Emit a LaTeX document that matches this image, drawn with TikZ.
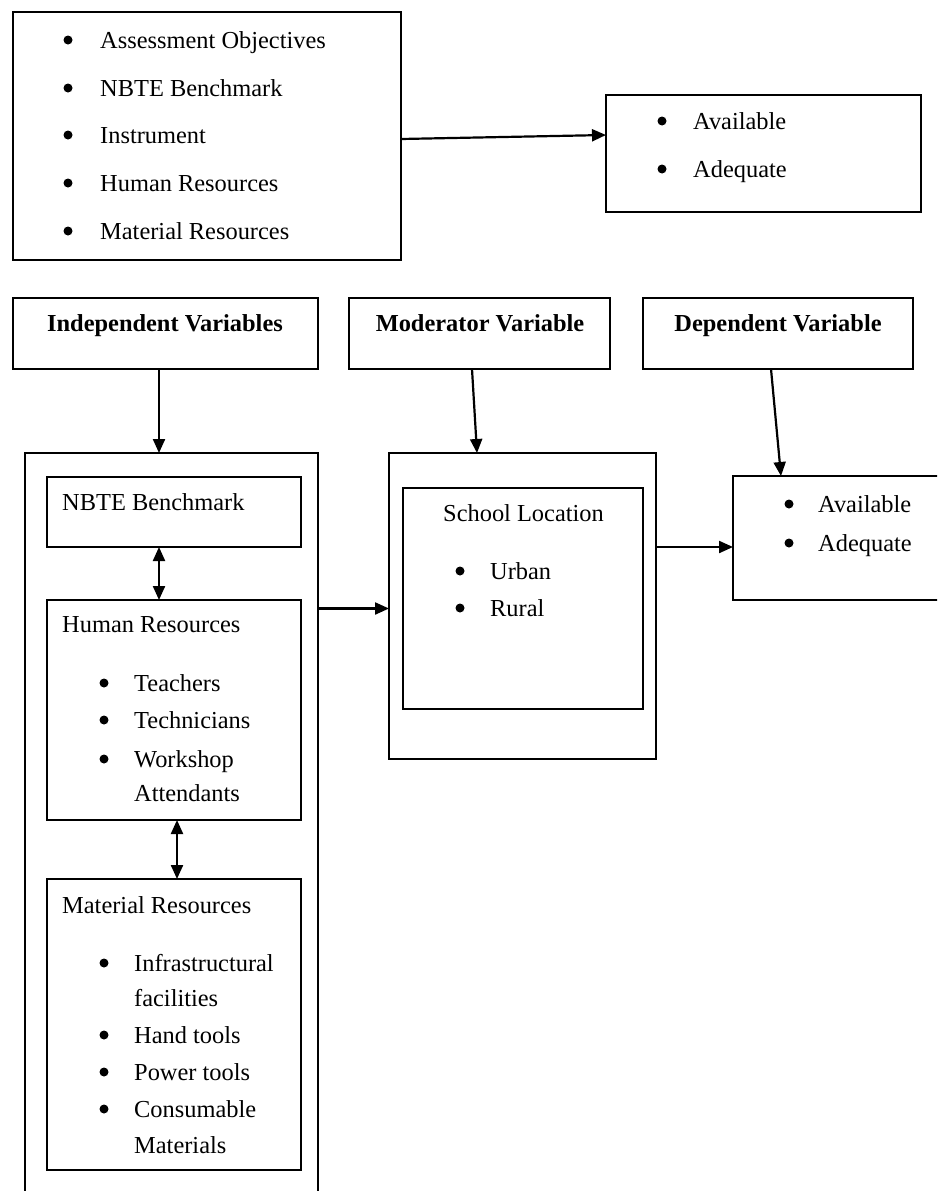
\documentclass[tikz,border=0pt]{standalone}
\usepackage{fontspec}
\setmainfont{Liberation Serif}
\usetikzlibrary{arrows.meta}
\begin{document}
\begin{tikzpicture}[x=1pt,y=-1pt,
  box/.style={draw,line width=2.2pt,inner sep=0pt,outer sep=0pt,anchor=north west},
  txt/.style={inner sep=0pt,anchor=base west,font=\fontsize{24.4}{28}\selectfont},
  hd/.style={inner sep=0pt,anchor=base,font=\fontsize{24.4}{28}\selectfont\bfseries},
  bul/.style={circle,fill,inner sep=0pt,minimum size=9pt,yshift=8pt},
  arr/.style={line width=2.2pt,-{Triangle[length=14pt,width=12pt]}},
  darr/.style={line width=2.2pt,{Triangle[length=14pt,width=12pt]}-{Triangle[length=14pt,width=12pt]}}]
\useasboundingbox (0,0) rectangle (937,1191);
\clip (0,0) rectangle (937,1191);
% top boxes
\node[box,minimum width=388pt,minimum height=248pt] (tl) at (13,12) {};
\node[box,minimum width=315pt,minimum height=117pt] (tr) at (606,95) {};
\node[bul] (tlb1) at (68,48) {};
\node[txt] (tlt1) at (100,48) {Assessment Objectives};
\node[bul] (tlb2) at (68,96) {};
\node[txt] (tlt2) at (100,96) {NBTE Benchmark};
\node[bul] (tlb3) at (68,143) {};
\node[txt] (tlt3) at (100,143) {Instrument};
\node[bul] (tlb4) at (68,191) {};
\node[txt] (tlt4) at (100,191) {Human Resources};
\node[bul] (tlb5) at (68,239) {};
\node[txt] (tlt5) at (100,239) {Material Resources};
\node[bul] (trb1) at (662,129) {};
\node[txt] (trt1) at (693,129) {Available};
\node[bul] (trb2) at (662,177) {};
\node[txt] (trt2) at (693,177) {Adequate};
\draw[arr] ([yshift=-3pt]tl.east) -- ([yshift=18.5pt]tr.west);
% header boxes
\node[box,minimum width=305pt,minimum height=71pt] (iv) at (13,298) {};
\node[box,minimum width=261pt,minimum height=71pt] (mv) at (349,298) {};
\node[box,minimum width=270pt,minimum height=71pt] (dv) at (643,298) {};
\node[hd] (ivt) at (165,331) {Independent Variables};
\node[hd] (mvt) at (480,331) {Moderator Variable};
\node[hd] (dvt) at (778,331) {Dependent Variable};
% lower boxes
\node[box,minimum width=293pt,minimum height=800pt] (ol) at (25,453) {};
\node[box,minimum width=254pt,minimum height=70pt] (nb) at (47,477) {};
\node[box,minimum width=254pt,minimum height=220pt] (hr) at (47,600) {};
\node[box,minimum width=254pt,minimum height=291pt] (mr) at (47,879) {};
\node[box,minimum width=267pt,minimum height=306pt] (mo) at (389,453) {};
\node[box,minimum width=240pt,minimum height=221pt] (sl) at (403,488) {};
\node[box,minimum width=240pt,minimum height=124pt] (rb) at (733,476) {};
% texts lower
\node[txt] (nbt) at (62,510) {NBTE Benchmark};
\node[txt] (hrt) at (62,632) {Human Resources};
\node[bul] (hrb1) at (104,691) {};
\node[txt] (hrt1) at (134,691) {Teachers};
\node[bul] (hrb2) at (104,728) {};
\node[txt] (hrt2) at (134,728) {Technicians};
\node[bul] (hrb3) at (104,767) {};
\node[txt] (hrt3) at (134,767) {Workshop};
\node[txt] (hrt4) at (134,801) {Attendants};
\node[txt] (mrt) at (62,913) {Material Resources};
\node[bul] (mrb1) at (104,971) {};
\node[txt] (mrt1) at (134,971) {Infrastructural};
\node[txt] (mrt2) at (134,1006) {facilities};
\node[bul] (mrb3) at (104,1043) {};
\node[txt] (mrt3) at (134,1043) {Hand tools};
\node[bul] (mrb4) at (104,1080) {};
\node[txt] (mrt4) at (134,1080) {Power tools};
\node[bul] (mrb5) at (104,1117) {};
\node[txt] (mrt5) at (134,1117) {Consumable};
\node[txt] (mrt6) at (134,1153) {Materials};
\node[txt] (slt) at (443,521) {School Location};
\node[bul] (slb1) at (460,579) {};
\node[txt] (slt1) at (490,579) {Urban};
\node[bul] (slb2) at (460,616) {};
\node[txt] (slt2) at (490,616) {Rural};
\node[bul] (rbb1) at (789,512) {};
\node[txt] (rbt1) at (818,512) {Available};
\node[bul] (rbb2) at (789,551) {};
\node[txt] (rbt2) at (818,551) {Adequate};
% connectors
\draw[arr] ([xshift=-6.5pt]iv.south) -- ([xshift=-6.5pt]iv.south |- ol.north);
\draw[arr] ([xshift=-7.5pt]mv.south) -- ([xshift=-45.5pt]mo.north);
\draw[arr] ([xshift=-7pt]dv.south) -- ([xshift=-72pt]rb.north);
\draw[arr] ([yshift=244.5pt]ol.east) -- ([yshift=244.5pt]ol.east -| mo.west);
\draw[arr] ([yshift=59pt]mo.east) -- ([yshift=59pt]mo.east -| rb.west);
\draw[darr] ([xshift=-15pt]nb.south) -- ([xshift=-15pt]hr.north);
\draw[darr] ([xshift=3pt]hr.south) -- ([xshift=3pt]mr.north);
\end{tikzpicture}
\end{document}
